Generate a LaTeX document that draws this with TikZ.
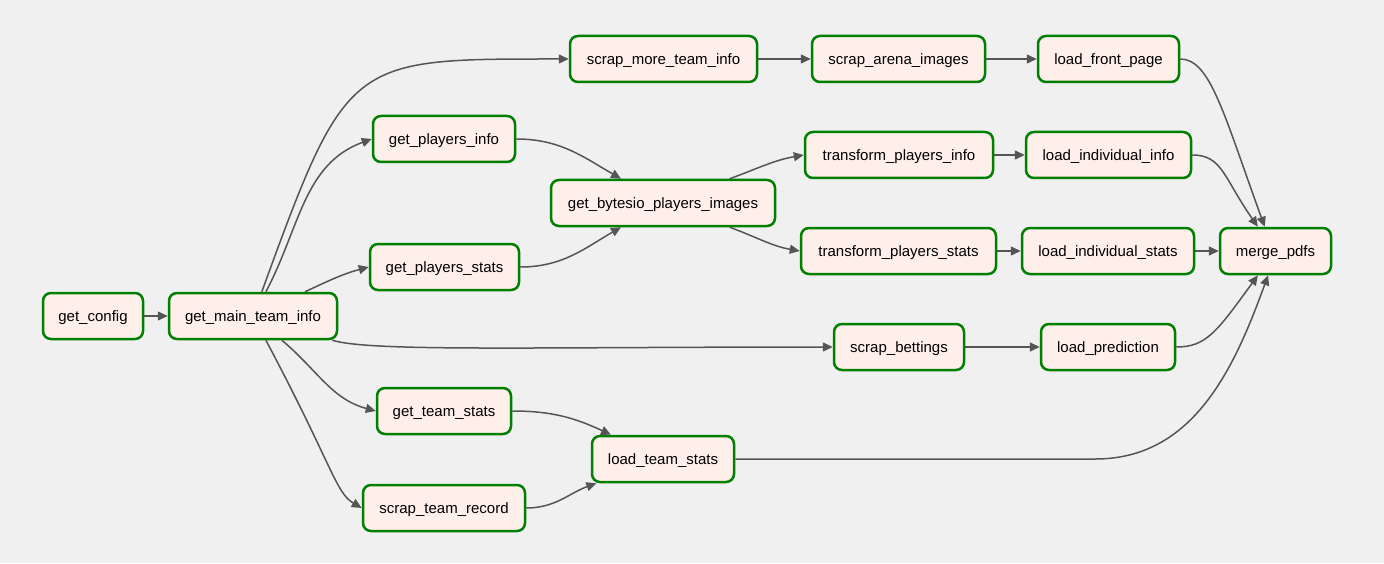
\documentclass[tikz,border=0pt]{standalone}
\usepackage{fontspec}
\setmainfont{Liberation Sans}
\usetikzlibrary{arrows.meta}
\definecolor{taskfill}{HTML}{FFEFEB}
\definecolor{taskline}{HTML}{008000}
\definecolor{edgegray}{HTML}{555555}
\definecolor{canvas}{HTML}{F0F0F0}
\begin{document}
\begin{tikzpicture}[
        x=0.5pt, y=0.5pt,
        task/.style={draw=taskline, fill=taskfill, rounded corners=4pt, line width=1.25pt,
            minimum height=23pt, inner sep=0pt, text height=7pt, text depth=1.5pt,
            text centered, font=\fontsize{7.5}{9}\selectfont},
        dep/.style={draw=edgegray, line width=0.75pt, -{Triangle[length=5pt,width=4.5pt]}},
    ]
    \fill[canvas] (0,0) rectangle (1384,563);
    \useasboundingbox (0,0) rectangle (1384,563);

    \node[task, minimum width=50pt](config) at (93,247){get\_config};
    \node[task, minimum width=84pt](main) at (253,247){get\_main\_team\_info};
    \node[task, minimum width=93.5pt](more) at (663.5,504){scrap\_more\_team\_info};
    \node[task, minimum width=86.5pt](arena) at (898.5,504){scrap\_arena\_images};
    \node[task, minimum width=70.5pt](front) at (1108.5,504){load\_front\_page};
    \node[task, minimum width=71pt](pinfo) at (444,424){get\_players\_info};
    \node[task, minimum width=74.5pt](pstats) at (444.5,296){get\_players\_stats};
    \node[task, minimum width=112pt](bytesio) at (663,360){get\_bytesio\_players\_images};
    \node[task, minimum width=94pt](tpinfo) at (899,408){transform\_players\_info};
    \node[task, minimum width=82.5pt](lii) at (1108.5,408){load\_individual\_info};
    \node[task, minimum width=97.5pt](tpstats) at (898.5,312){transform\_players\_stats};
    \node[task, minimum width=86pt](lis) at (1108,312){load\_individual\_stats};
    \node[task, minimum width=55.5pt](merge) at (1275.5,312){merge\_pdfs};
    \node[task, minimum width=65pt](bettings) at (899,216){scrap\_bettings};
    \node[task, minimum width=67pt](pred) at (1108,216){load\_prediction};
    \node[task, minimum width=67pt](tstats) at (444,152){get\_team\_stats};
    \node[task, minimum width=71pt](lts) at (663,104){load\_team\_stats};
    \node[task, minimum width=81pt](record) at (444,55){scrap\_team\_record};

    % fan out of get_main_team_info
    \draw[dep] (config) -- (main);
    \draw[dep] (main) to[out=70, in=180, out distance=125pt, in distance=110pt] (more.west);
    \draw[dep] (main) to[out=62, in=200] (pinfo.west);
    \draw[dep] (main) to[out=25, in=195] (pstats.west);
    \draw[dep] (main) to[out=-17, in=180, out distance=20pt, in distance=150pt] (bettings.west);
    \draw[dep] (main) to[out=-40, in=165] (tstats.west);
    \draw[dep] (main) to[out=-62, in=150, out distance=70pt, in distance=15pt] (record.west);

    \draw[dep] (pinfo.east) to[out=0, in=150] (bytesio.150);
    \draw[dep] (pstats.east) to[out=0, in=210] (bytesio.210);
    \draw[dep] (bytesio) to[out=20, in=190] (tpinfo.west);
    \draw[dep] (bytesio) to[out=-20, in=170] (tpstats.west);
    \draw[dep] (tstats.east) to[out=0, in=155] (lts.155);
    \draw[dep] (record.east) to[out=0, in=200] (lts.200);

    \draw[dep] (more) -- (arena);
    \draw[dep] (arena) -- (front);
    \draw[dep] (tpinfo) -- (lii);
    \draw[dep] (tpstats) -- (lis);
    \draw[dep] (lis) -- (merge);
    \draw[dep] (bettings) -- (pred);

    % into merge_pdfs
    \draw[dep] (front.east) to[out=0, in=110, out distance=15pt, in distance=60pt] (merge.114);
    \draw[dep] (lii.east) to[out=0, in=125, out distance=15pt, in distance=30pt] (merge.126);
    \draw[dep] (pred.east) to[out=0, in=234, out distance=15pt, in distance=35pt] (merge.234);
    \draw[dep] (lts.east) -- ++(360,0) to[out=0, in=250] (merge.253);

\end{tikzpicture}
\end{document}
